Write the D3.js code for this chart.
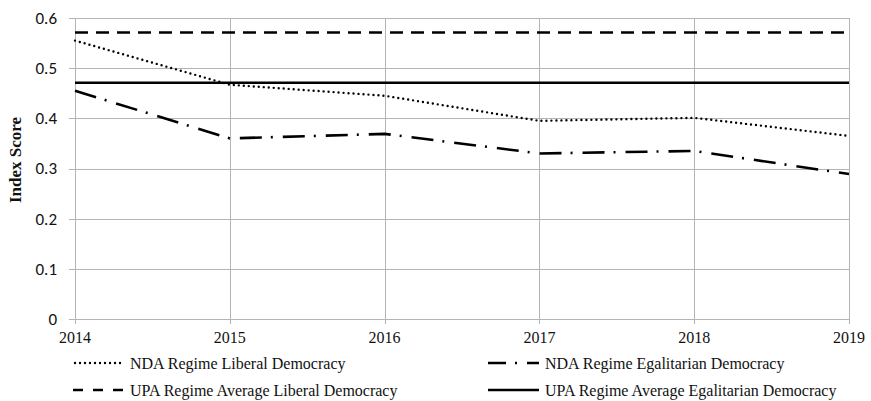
<!DOCTYPE html>
<html>
<head>
<meta charset="utf-8">
<script src="https://cdn.jsdelivr.net/npm/d3@7"></script>
<style>
  body { margin: 0; background: #fff; }
  svg { display: block; }
</style>
</head>
<body>
<div id="chart"></div>
<script>
// values
var years = [2014, 2015, 2016, 2017, 2018, 2019];
var ndaLiberal = [0.555, 0.467, 0.445, 0.395, 0.401, 0.365];
var ndaEgalitarian = [0.455, 0.360, 0.369, 0.330, 0.335, 0.289];
var upaLiberalAvg = 0.571;
var upaEgalitarianAvg = 0.471;
var yTicks = [0, 0.1, 0.2, 0.3, 0.4, 0.5, 0.6];
var legendLabels = [
  "NDA Regime Liberal Democracy",
  "NDA Regime Egalitarian Democracy",
  "UPA Regime Average Liberal Democracy",
  "UPA Regime Average Egalitarian Democracy"
];

var width = 871, height = 401;
var plotLeft = 75, plotRight = 849, plotTop = 18, plotBottom = 319;

var x = d3.scaleLinear().domain([2014, 2019]).range([plotLeft, plotRight]);
var y = d3.scaleLinear().domain([0, 0.6]).range([plotBottom, plotTop]);

var svg = d3.select("#chart").append("svg")
    .attr("width", width)
    .attr("height", height);

var grid = "#b4b4b4";
var serif = "'Liberation Serif', 'Times New Roman', serif";

// horizontal grid (with little tick stubs on the left)
svg.append("g").selectAll("line")
    .data(yTicks).enter().append("line")
    .attr("x1", plotLeft - 6).attr("x2", plotRight)
    .attr("y1", function(d) { return Math.round(y(d)) + 0.5; })
    .attr("y2", function(d) { return Math.round(y(d)) + 0.5; })
    .attr("stroke", grid).attr("stroke-width", 1);

// vertical grid
svg.append("g").selectAll("line")
    .data(years).enter().append("line")
    .attr("x1", function(d) { return Math.round(x(d)) + 0.5; })
    .attr("x2", function(d) { return Math.round(x(d)) + 0.5; })
    .attr("y1", plotTop).attr("y2", plotBottom + 5)
    .attr("stroke", grid).attr("stroke-width", 1);

// y tick labels
svg.append("g").selectAll("text")
    .data(yTicks).enter().append("text")
    .attr("x", 57)
    .attr("y", function(d) { return y(d); })
    .attr("dy", "0.35em")
    .attr("text-anchor", "end")
    .style("font-family", "Carlito, 'Open Sans', 'Noto Sans', sans-serif")
    .style("font-size", "17px")
    .attr("fill", "#111")
    .text(function(d) { return d === 0 ? "0" : d3.format(".1f")(d); });

// x tick labels
svg.append("g").selectAll("text")
    .data(years).enter().append("text")
    .attr("x", function(d) { return x(d); })
    .attr("y", 343)
    .attr("text-anchor", "middle")
    .style("font-family", serif)
    .style("font-size", "16px")
    .attr("fill", "#111")
    .text(function(d) { return d; });

// y axis title
svg.append("text")
    .attr("transform", "translate(21,160) rotate(-90)")
    .attr("text-anchor", "middle")
    .style("font-family", serif)
    .style("font-size", "17px")
    .style("font-weight", "bold")
    .attr("fill", "#111")
    .text("Index Score");

var styles = [
  { dash: "0,5", width: 2.4, cap: "round" },
  { dash: "22,9,2,10", width: 2.6, cap: "butt" },
  { dash: "13,8", width: 2.6, cap: "butt" },
  { dash: null, width: 2.6, cap: "butt" }
];

var line = d3.line()
    .x(function(d) { return x(d[0]); })
    .y(function(d) { return y(d[1]); });

var series = [
  d3.zip(years, ndaLiberal),
  d3.zip(years, ndaEgalitarian),
  years.map(function(t) { return [t, upaLiberalAvg]; }),
  years.map(function(t) { return [t, upaEgalitarianAvg]; })
];

series.forEach(function(s, i) {
  svg.append("path")
      .datum(s)
      .attr("d", line)
      .attr("fill", "none")
      .attr("stroke", "#000")
      .attr("stroke-width", styles[i].width)
      .attr("stroke-linecap", styles[i].cap)
      .attr("stroke-dasharray", styles[i].dash);
});

// legend
var legendPos = [
  { x: 73, y: 363 }, { x: 488, y: 363 },
  { x: 73, y: 390 }, { x: 488, y: 390 }
];
var legendDash = ["0,5", "18,9,2,10", "10,10", null];

var lg = svg.append("g").selectAll("g")
    .data(legendLabels).enter().append("g")
    .attr("transform", function(d, i) {
      return "translate(" + legendPos[i].x + "," + legendPos[i].y + ")";
    });

lg.append("line")
    .attr("x1", function(d, i) { return i === 0 ? 2 : 0; })
    .attr("x2", 51)
    .attr("stroke", "#000")
    .attr("stroke-width", function(d, i) { return styles[i].width; })
    .attr("stroke-linecap", function(d, i) { return styles[i].cap; })
    .attr("stroke-dasharray", function(d, i) { return legendDash[i]; });

lg.append("text")
    .attr("x", 57)
    .attr("dy", "0.35em")
    .style("font-family", serif)
    .style("font-size", "16px")
    .attr("fill", "#111")
    .text(function(d) { return d; });
</script>
</body>
</html>
